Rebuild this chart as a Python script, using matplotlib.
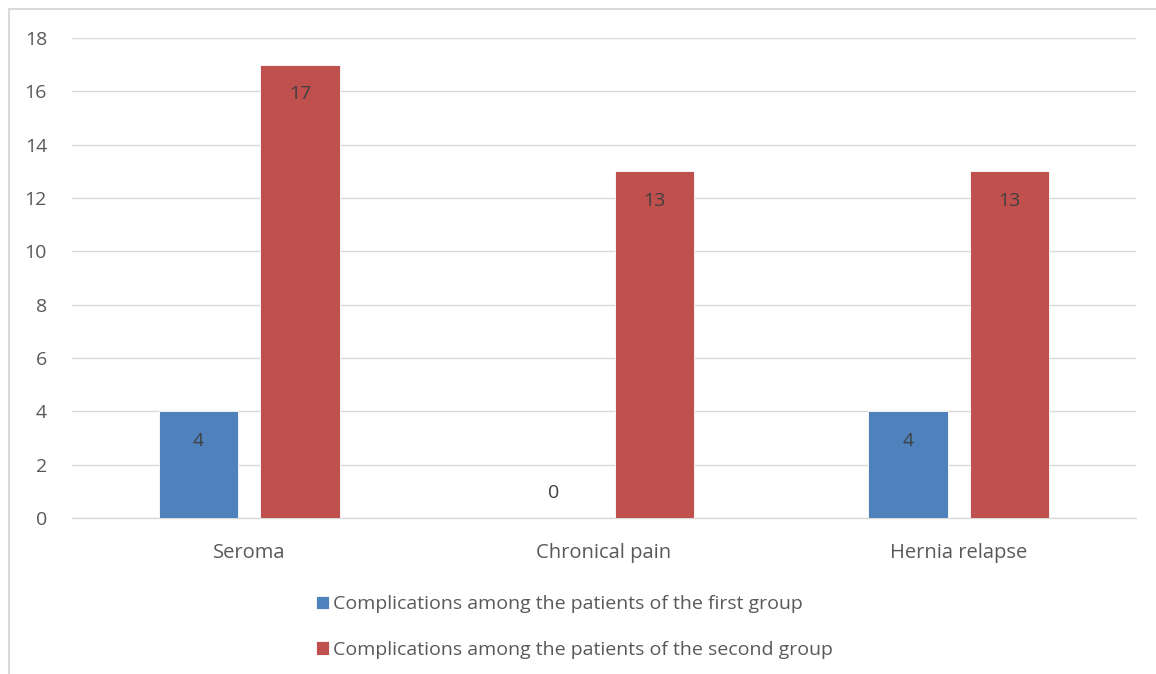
import matplotlib
matplotlib.use("Agg")
import matplotlib.pyplot as plt
import numpy as np
from matplotlib.lines import Line2D

plt.rcParams['font.family'] = ['Open Sans', 'DejaVu Sans']

categories = ["Seroma", "Chronical pain", "Hernia relapse"]
series_names = ["Complications among the patients of the first group",
                "Complications among the patients of the second group"]
first_group = [4, 0, 4]
second_group = [17, 13, 13]
yticks = [0, 2, 4, 6, 8, 10, 12, 14, 16, 18]

colors = ["#4F81BD", "#C0504D"]
text_color = "#595959"
label_color = "#404040"

fig = plt.figure(figsize=(11.56, 6.74), dpi=100)
ax = fig.add_axes([72/1156, 1-518/674, (1136-72)/1156, (518-38)/674])

x = np.arange(len(categories))
w = 0.224
off = 0.143
b1 = ax.bar(x - off, first_group, w, color=colors[0], edgecolor="white", linewidth=0.6, zorder=3,
            label=series_names[0])
b2 = ax.bar(x + off, second_group, w, color=colors[1], edgecolor="white", linewidth=0.6, zorder=3,
            label=series_names[1])

for bars, vals in ((b1, first_group), (b2, second_group)):
    for rect, v in zip(bars, vals):
        cx = rect.get_x() + rect.get_width()/2
        dy = 18 if v == 0 else -21
        ax.annotate(str(v), (cx, v), xytext=(0, dy), textcoords="offset points",
                    ha="center", va="center", fontsize=14, color=label_color, zorder=4)

ax.set_xlim(-0.5, 2.5)
ax.set_ylim(0, 18)
ax.set_yticks(yticks)
ax.set_yticklabels([str(t) for t in yticks])
ax.set_xticks(x)
ax.set_xticklabels(categories)
ax.tick_params(axis="y", length=0, pad=18, labelsize=14, labelcolor=text_color)
ax.tick_params(axis="x", length=0, pad=18, labelsize=14.5, labelcolor=text_color)
ax.grid(axis="y", color="#D9D9D9", linewidth=1, zorder=0)
for s in ["top", "right", "left"]:
    ax.spines[s].set_visible(False)
ax.spines["bottom"].set_color("#D9D9D9")
ax.spines["bottom"].set_linewidth(1)

leg = fig.legend(handles=[b1, b2], loc="center", bbox_to_anchor=(0.497, 1-627/674),
                 ncol=1, frameon=False, fontsize=14, labelcolor=text_color,
                 handlelength=0.7, handleheight=0.7, handletextpad=0.2, labelspacing=1.4)

# outer frame lines (top and left)
fig.add_artist(Line2D([9/1156, 1], [1-9/674, 1-9/674], color="#D9D9D9", linewidth=1.5))
fig.add_artist(Line2D([9/1156, 9/1156], [0, 1-9/674], color="#D9D9D9", linewidth=1.5))

fig.savefig("out.png", dpi=100)
